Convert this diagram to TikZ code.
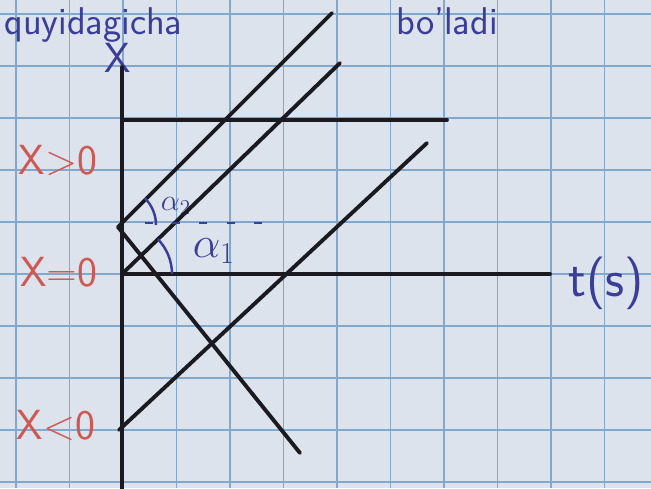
\documentclass[tikz,border=0pt]{standalone}
\usepackage{xcolor}
\usetikzlibrary{positioning}
\definecolor{paper}{RGB}{221,227,237}
\definecolor{gridblue}{RGB}{130,168,206}
\definecolor{inkred}{RGB}{206,88,82}
\definecolor{inkblue}{RGB}{58,62,152}
\definecolor{inkblack}{RGB}{26,26,32}
\tikzset{
  gridline/.style={
    draw=gridblue,
    line width=0.9pt
  },
  graphline/.style={
    draw=inkblack,
    line width=2.2pt,
    line cap=round
  },
  redlabel/.style={
    text=inkred,
    inner sep=0pt,
    font=\sffamily\fontsize{24}{28}\selectfont
  },
  bluelabel/.style={
    text=inkblue,
    inner sep=0pt,
    font=\sffamily\fontsize{24}{28}\selectfont
  },
  anglelabel/.style={
    text=inkblue,
    inner sep=0pt
  },
  anglearc/.style={
    draw=inkblue,
    line width=1.4pt
  },
  helpline/.style={
    draw=inkblue,
    line width=1.4pt,
    dash pattern=on 4.5pt off 11pt
  }
}

\begin{document}
\begin{tikzpicture}[x=0.02cm,y=-0.02cm]
\useasboundingbox (0,0) rectangle (651,488);
\clip (0,0) rectangle (651,488);
\fill[paper] (0,0) rectangle (651,488);
\foreach \gx in {16,69.5,...,640} \draw[gridline] (\gx,0) -- (\gx,488);
\foreach \gy in {14,66,...,488} \draw[gridline] (0,\gy) -- (651,\gy);

% points on the axes
\coordinate (O) at (122,274);
\coordinate (xtop) at (122,67);
\coordinate (xbot) at (122,492);
\coordinate (tend) at (550,274);
\coordinate (xpos) at (118,227);
\coordinate (xneg) at (119,430);
\coordinate (hstart) at (122,120);
\coordinate (hend) at (447,120);
\coordinate (aend) at (332,13);
\coordinate (bend) at (340,63);
\coordinate (cend) at (427,143);
\coordinate (dend) at (300,453);
\coordinate (dashstart) at (145,223);
\coordinate (dashend) at (264,223);

% labels
\node[bluelabel, font=\sffamily\fontsize{22}{26}\selectfont, anchor=base west] (head1) at (4,34) {quyidagicha};
\node[bluelabel, font=\sffamily\fontsize{22}{26}\selectfont, anchor=base west] (head2) at (396,34) {bo'ladi};
\node[bluelabel] (xlab) at (118,58) {X};
\node[bluelabel, font=\sffamily\fontsize{30}{34}\selectfont] (tlab) at (606,283) {t(s)};
\node[redlabel] (xgt) at (58,160) {X>0};
\node[redlabel] (xeq) at (59,272) {X=0};
\node[redlabel] (xlt) at (56,425) {X<0};
\node[anglelabel, font=\fontsize{17}{19}\selectfont] (al2) at (176,206) {$\alpha_2$};
\node[anglelabel, font=\fontsize{24}{28}\selectfont] (al1) at (214,251) {$\alpha_1$};

% axes
\draw[graphline] (xbot) -- (xtop);
\draw[graphline] (O) -- (tend);

% graphs
\draw[graphline] (hstart) -- (hend);
\draw[graphline] (xpos) -- (aend);
\draw[graphline] (O) -- (bend);
\draw[graphline] (xneg) -- (cend);
\draw[graphline] (xpos) -- (dend);

% angles
\draw[helpline] (dashstart) -- (dashend);
\draw[anglearc] (O) ++(50,0) arc[start angle=0, end angle=-44, radius=50];
\draw[anglearc] (xpos) ++(38,-2) arc[start angle=0, end angle=-45, radius=38];
\end{tikzpicture}
\end{document}
